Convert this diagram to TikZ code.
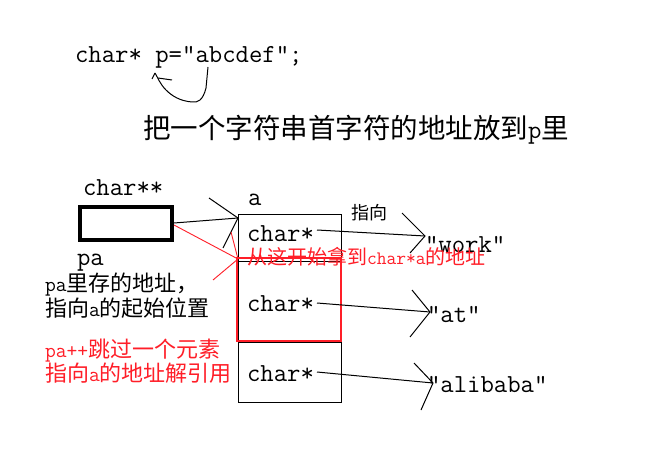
\documentclass[tikz,border=0pt]{standalone}
\usepackage{fontspec}
\newfontfamily\cjk{Noto Sans CJK SC}
\newcommand\zh[1]{{\cjk #1}}
\definecolor{zred}{RGB}{255,30,40}
\begin{document}
\begin{tikzpicture}[x=1pt,y=-1pt,
  every node/.style={inner sep=0pt,outer sep=0pt,anchor=base west},
  lat/.style={font=\fontsize{26}{30}\selectfont\ttfamily},
  ttl/.style={font=\fontsize{27.5}{30}\selectfont},
  note/.style={font=\fontsize{22}{26}\selectfont},
  rnote/.style={note,text=zred},
  small/.style={font=\fontsize{20}{24}\selectfont},
  ln/.style={line width=1pt},
  rln/.style={line width=0.9pt,draw=zred}]
\useasboundingbox (0,0) rectangle (655,473);
\fill[white] (0,0) rectangle (655,473);

% top code and curved arrow
\node[lat] (code) at (75,63) {char* p="abcdef";};
\coordinate (cs) at (208,67);
\coordinate (ct) at (155,73);
\draw[ln] (cs) -- (206,88) .. controls (203,100) and (198,103) .. (192,102)
  .. controls (180,101) and (172,96) .. (166,90)
  .. controls (160,84) and (158,78) .. (ct);
\draw[ln] (ct) -- (152,79);
\draw[ln] (158,78) -- (172,80);

% title
\node[ttl] (title) at (143,139) {\zh{把一个字符串首字符的地址放到}{\ttfamily\fontsize{26}{30}\selectfont p}\zh{里}};

% pa box
\node[lat] (cpp) at (83,195) {char**};
\node[draw,line width=4.3pt,minimum width=92pt,minimum height=33pt,anchor=center] (pa) at (126,223.5) {};
\node[lat] (palbl) at (77,265) {pa};

% array a
\node[lat] (albl) at (248,205) {a};
\node[draw,line width=1pt,minimum width=103pt,minimum height=188pt,anchor=north west] (arr) at (238,214) {};
\draw[ln] (238,261) -- (341,261);
\draw[ln] (238,342) -- (341,342);
\node[draw=zred,line width=1.3pt,minimum width=104pt,minimum height=83pt,anchor=north west] (sel) at (237,258) {};

\node[lat] (c1) at (247,241) {char*};
\node[lat] (c2) at (247,311) {char*};
\node[lat] (c3) at (247,381) {char*};

% pa -> a arrows
\coordinate (pb) at (174,223);
\coordinate (ta) at (238,218);
\draw[ln] (pb) -- (ta);
\draw[ln] (209,198) -- (ta) -- (223,248);
\coordinate (pr) at (174,225);
\coordinate (tr) at (238,259);
\draw[rln] (pr) -- (tr);
\draw[rln] (231,232) -- (tr) -- (213,280);

% strings
\node[font=\fontsize{18}{22}\selectfont] (zx) at (351,219) {\zh{指向}};
\node[lat] (s1) at (425,252) {"work"};
\node[lat] (s2) at (427,322) {"at"};
\node[lat] (s3) at (427,392) {"alibaba"};

\coordinate (e1) at (317,230); \coordinate (t1) at (425,236);
\draw[ln] (e1) -- (t1); \draw[ln] (402,213) -- (t1) -- (410,253);
\coordinate (e2) at (317,303); \coordinate (t2) at (430,312);
\draw[ln] (e2) -- (t2); \draw[ln] (412,290) -- (t2) -- (410,337);
\coordinate (e3) at (317,372); \coordinate (t3) at (433,383);
\draw[ln] (e3) -- (t3); \draw[ln] (414,363) -- (t3) -- (421,410);

% red label on the array
\node[small,text=zred] (rl) at (247,264) {\zh{从这开始拿到}{\ttfamily\fontsize{19}{24}\selectfont char*a}\zh{的地址}};

% left notes
\node[note] (n1) at (45,291) {{\ttfamily\fontsize{21}{26}\selectfont pa}\zh{里存的地址，}};
\node[note] (n2) at (45,316) {\zh{指向}{\ttfamily\fontsize{21}{26}\selectfont a}\zh{的起始位置}};
\node[rnote] (n3) at (45,357) {{\ttfamily\fontsize{21}{26}\selectfont pa++}\zh{跳过一个元素}};
\node[rnote] (n4) at (45,381) {\zh{指向}{\ttfamily\fontsize{21}{26}\selectfont a}\zh{的地址解引用}};
\end{tikzpicture}
\end{document}
